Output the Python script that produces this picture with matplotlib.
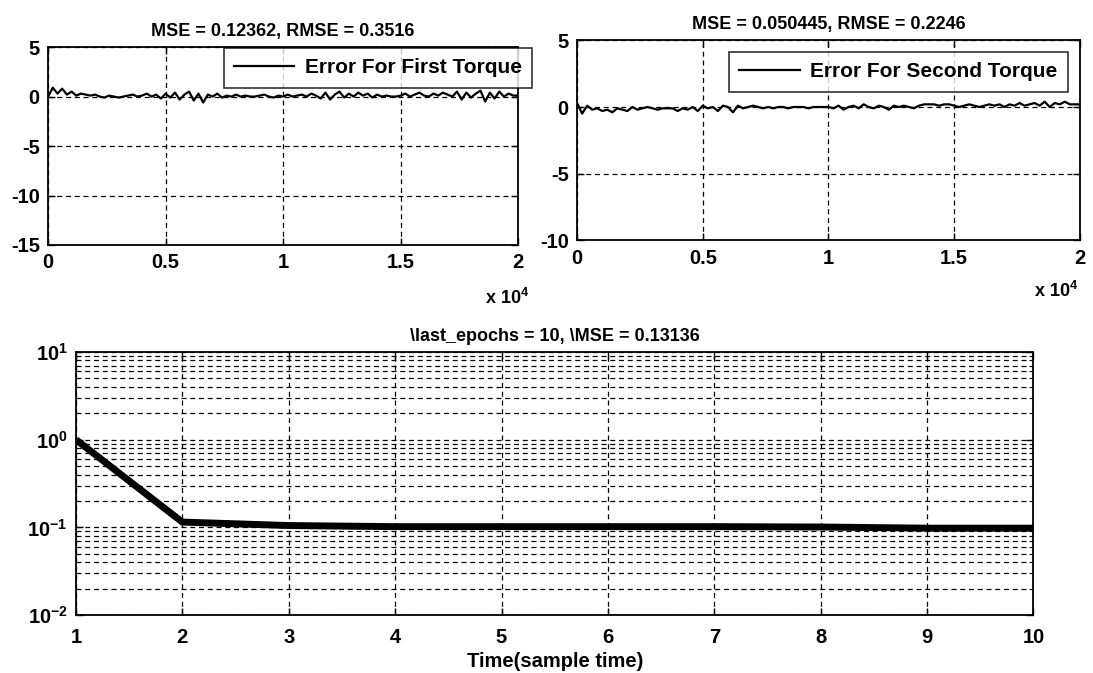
import numpy as np
import matplotlib
matplotlib.use("Agg")
import matplotlib.pyplot as plt
from matplotlib.ticker import FuncFormatter, FixedLocator, LogLocator

plt.rcParams['font.family'] = ['Liberation Sans', 'DejaVu Sans']
plt.rcParams['font.weight'] = 'bold'
plt.rcParams['axes.unicode_minus'] = False
plt.rcParams['mathtext.fontset'] = 'custom'
plt.rcParams['mathtext.rm'] = 'Liberation Sans:bold'
plt.rcParams['mathtext.it'] = 'Liberation Sans:bold'
plt.rcParams['mathtext.bf'] = 'Liberation Sans:bold'
plt.rcParams['mathtext.default'] = 'rm'

# error samples (every 200 samples)
samples = np.arange(0, 20001, 200)
err_first = [0.0, 0.9, 0.3, 0.8, 0.2, 0.5, 0.1, 0.3, 0.2, 0.1,
             0.2, 0.0, -0.1, 0.1, 0.0, -0.1, 0.0, 0.1, 0.2, 0.0,
             0.1, 0.3, 0.0, 0.2, -0.2, 0.3, -0.1, 0.4, -0.3, 0.2,
             0.5, -0.4, 0.3, -0.6, 0.2, 0.0, 0.3, -0.1, 0.1, 0.0,
             0.2, 0.0, 0.1, 0.0, 0.0, 0.1, 0.2, 0.0, -0.1, 0.1,
             0.0, 0.2, 0.0, 0.1, 0.2, 0.0, 0.3, 0.1, -0.2, 0.4,
             -0.3, 0.2, 0.5, -0.1, 0.3, 0.0, 0.4, 0.1, 0.3, -0.1,
             0.2, 0.0, 0.1, 0.0, 0.0, 0.1, 0.3, 0.0, 0.2, 0.4,
             0.1, 0.0, 0.3, 0.1, 0.4, 0.2, 0.0, 0.5, -0.3, 0.4,
             -0.1, 0.3, 0.6, -0.5, 0.4, -0.2, 0.5, 0.0, 0.3, 0.1,
             0.1]
err_second = [0.3, -0.5, 0.1, -0.2, -0.1, -0.3, -0.2, -0.4, -0.1, -0.2,
              -0.3, 0.0, -0.2, -0.1, 0.0, -0.1, -0.2, -0.1, -0.1, -0.1,
              -0.3, -0.1, -0.2, 0.0, -0.3, 0.1, -0.1, 0.0, -0.3, 0.1,
              0.0, -0.4, 0.1, -0.1, 0.0, 0.1, 0.0, -0.1, 0.0, -0.1,
              0.0, 0.0, -0.1, 0.0, 0.0, 0.0, -0.1, 0.0, 0.0, 0.0,
              0.0, -0.1, 0.1, -0.2, 0.0, 0.1, -0.1, 0.2, 0.0, -0.1,
              0.1, 0.0, -0.2, 0.1, 0.0, 0.1, 0.0, -0.1, 0.1, 0.2,
              0.2, 0.2, 0.1, 0.2, 0.2, 0.1, 0.0, 0.1, 0.2, 0.1,
              0.0, 0.1, 0.2, 0.1, 0.2, 0.0, 0.2, 0.1, 0.3, 0.1,
              0.2, 0.3, 0.1, 0.4, 0.0, 0.3, 0.2, 0.4, 0.2, 0.2,
              0.2]

# training performance per epoch
epochs = [1, 2, 3, 4, 5, 6, 7, 8, 9, 10]
mse_epoch = [1.0, 0.115, 0.105, 0.102, 0.102, 0.102, 0.102, 0.101, 0.098, 0.098]

xticks_top = [0, 5000, 10000, 15000, 20000]
fs_title = 13
fs_tick = 14.5
fs_leg = 15

fig = plt.figure(figsize=(10.93, 6.73), dpi=100)
ax1 = fig.add_axes([0.044, 0.636, 0.430, 0.294])
ax2 = fig.add_axes([0.528, 0.643, 0.460, 0.297])
ax3 = fig.add_axes([0.0695, 0.086, 0.876, 0.391])

grid_kw = dict(color='black', linestyle=(0, (4, 3)), linewidth=0.9)


def style_axes(ax):
    for sp in ax.spines.values():
        sp.set_linewidth(1.3)
        sp.set_color('black')
    ax.tick_params(direction='in', labelsize=fs_tick, length=5, width=1,
                   top=True, right=True, pad=6)


for ax, err, ylo, label, ttl in [
        (ax1, err_first, -15, 'Error For First Torque', 'MSE = 0.12362, RMSE = 0.3516'),
        (ax2, err_second, -10, 'Error For Second Torque', 'MSE = 0.050445, RMSE = 0.2246')]:
    ax.plot(samples, err, color='black', linewidth=1.6, label=label)
    ax.set_xlim(0, 20000)
    ax.set_ylim(ylo, 5)
    ax.set_yticks(np.arange(ylo, 6, 5))
    ax.xaxis.set_major_locator(FixedLocator(xticks_top))
    ax.xaxis.set_major_formatter(FuncFormatter(lambda v, p: f"{v / 1e4:g}"))
    ax.grid(True, **grid_kw)
    ax.set_title(ttl, fontsize=fs_title, fontweight='bold', pad=8)
    style_axes(ax)

leg1 = ax1.legend(loc='upper right', bbox_to_anchor=(0.487, 0.929),
                  bbox_transform=fig.transFigure, fontsize=fs_leg, frameon=True,
                  fancybox=False, edgecolor='black', handlelength=2.9,
                  borderaxespad=0, borderpad=0.5, handletextpad=0.5)
leg1.get_frame().set_linewidth(1.2)
leg2 = ax2.legend(loc='upper right', bbox_to_anchor=(0.977, 0.923),
                  bbox_transform=fig.transFigure, fontsize=fs_leg, frameon=True,
                  fancybox=False, edgecolor='black', handlelength=2.9,
                  borderaxespad=0, borderpad=0.5, handletextpad=0.5)
leg2.get_frame().set_linewidth(1.2)

fig.text(0.444, 0.558, r'x 10$^{4}$', fontsize=fs_title, ha='left', va='center')
fig.text(0.946, 0.568, r'x 10$^{4}$', fontsize=fs_title, ha='left', va='center')

# bottom: performance on log scale
ax3.semilogy(epochs, mse_epoch, color='black', linewidth=5, solid_capstyle='butt')
ax3.set_xlim(1, 10)
ax3.set_ylim(1e-2, 1e1)
ax3.set_xticks(epochs)
ax3.yaxis.set_major_locator(LogLocator(base=10, numticks=10))
ax3.yaxis.set_minor_locator(LogLocator(base=10, subs=np.arange(2, 10), numticks=20))
ax3.grid(True, which='major', **grid_kw)
ax3.grid(True, which='minor', axis='y', **grid_kw)
ax3.set_title(r'\last_epochs = 10, \MSE = 0.13136', fontsize=fs_title,
              fontweight='bold', pad=8)
ax3.set_xlabel('Time(sample time)', fontsize=fs_tick, fontweight='bold', labelpad=4)
style_axes(ax3)
ax3.tick_params(axis='x', pad=9)
ax3.tick_params(which='minor', direction='in', length=3, right=True)

fig.savefig('out.png', dpi=100, facecolor='white')
